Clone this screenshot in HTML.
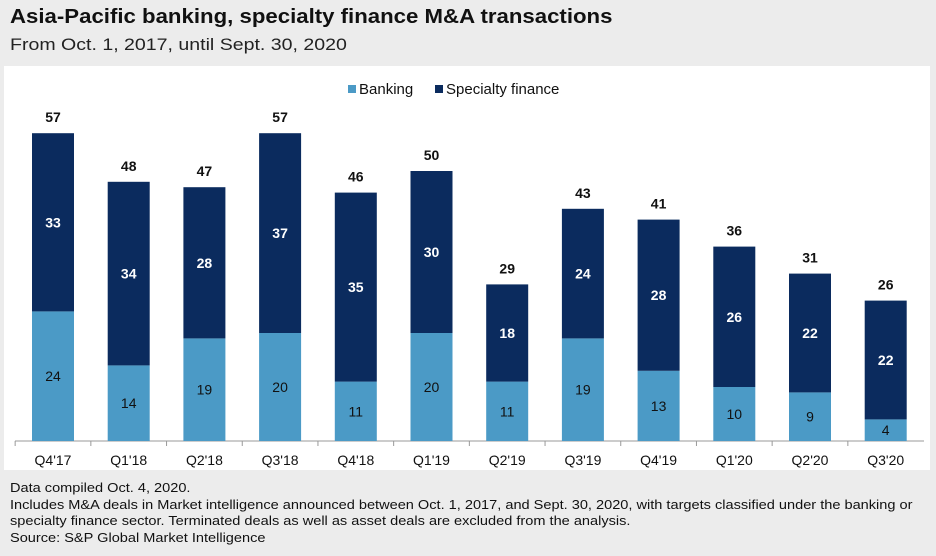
<!DOCTYPE html>
<html><head><meta charset="utf-8"><style>
body{margin:0;width:936px;height:556px;background:#ececec;font-family:"Liberation Sans",Arial,sans-serif;overflow:hidden;position:relative}
.t{position:absolute;left:10px;top:6px;font-size:20px;font-weight:bold;color:#111;transform:scaleX(1.11);transform-origin:left top;white-space:nowrap}
.s{position:absolute;left:10px;top:35px;font-size:17px;color:#222;transform:scaleX(1.15);transform-origin:left top;white-space:nowrap}
.p{position:absolute;left:4px;top:66px;width:926px;height:404px;background:#fff}
.n{position:absolute;left:10px;top:480px;font-size:13px;line-height:16.5px;color:#111;transform:scaleX(1.12);transform-origin:left top;white-space:nowrap}
</style></head><body>
<div class="t">Asia-Pacific banking, specialty finance M&amp;A transactions</div>
<div class="s">From Oct. 1, 2017, until Sept. 30, 2020</div>
<div class="p"></div>
<svg id="c" width="936" height="556" style="position:absolute;left:0;top:0"></svg>
<div class="n">Data compiled Oct. 4, 2020.<br>Includes M&amp;A deals in Market intelligence announced between Oct. 1, 2017, and Sept. 30, 2020, with targets classified under the banking or<br>specialty finance sector. Terminated deals as well as asset deals are excluded from the analysis.<br>Source: S&amp;P Global Market Intelligence</div>
<script>
const categories=["Q4'17","Q1'18","Q2'18","Q3'18","Q4'18","Q1'19","Q2'19","Q3'19","Q4'19","Q1'20","Q2'20","Q3'20"];
const banking=[24,14,19,20,11,20,11,19,13,10,9,4];
const specialty=[33,34,28,37,35,30,18,24,28,26,22,22];
const NS="http://www.w3.org/2000/svg",svg=document.getElementById('c');
const base=441,k=5.4,x0=53,dx=75.7,bw=42;
const y=v=>base-v*k, xc=i=>x0+i*dx;
function el(t,a,txt){const e=document.createElementNS(NS,t);for(const q in a)e.setAttribute(q,a[q]);if(txt!=null)e.textContent=txt;svg.appendChild(e);return e;}
const ax=el('line',{x1:15,x2:924,y1:base,y2:base,stroke:'#999'});


categories.forEach((c,i)=>{
  const x=xc(i),b=banking[i],s=specialty[i];
  const tk=el('line',{x1:x-dx/2,x2:x-dx/2,y1:base,y2:base+5,stroke:'#999'});
  
  
  const r1=el('rect',{x:x-bw/2,y:y(b),width:bw,height:b*k,fill:'#4b9ac6'});
  
  
  const r2=el('rect',{x:x-bw/2,y:y(b+s),width:bw,height:s*k,fill:'#0b2b5e'});
  
  
  const l1=el('text',{x:x,y:y(b/2)+5,'text-anchor':'middle','font-size':14,fill:'#111'},b);
  
  
  const l2=el('text',{x:x,y:y(b+s/2)+5,'text-anchor':'middle','font-size':14,'font-weight':'bold',fill:'#fff'},s);
  
  
  const l3=el('text',{x:x,y:y(b+s)-11,'text-anchor':'middle','font-size':14,'font-weight':'bold',fill:'#111'},b+s);
  
  
  const l4=el('text',{x:x,y:base+24,'text-anchor':'middle','font-size':14,fill:'#111'},c);
  
  
});
const lg1=el('rect',{x:348,y:85,width:8,height:8,fill:'#4b9ac6'});


const lt1=el('text',{x:359,y:94,'font-size':15,fill:'#111'},'Banking');


const lg2=el('rect',{x:435,y:85,width:8,height:8,fill:'#0b2b5e'});


const lt2=el('text',{x:446,y:94,'font-size':15,fill:'#111'},'Specialty finance');


</script>
</body></html>
